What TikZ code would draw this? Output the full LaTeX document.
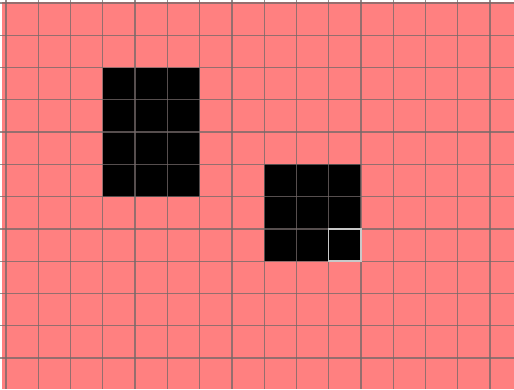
\documentclass[tikz,border=0pt]{standalone}
\usetikzlibrary{calc}
\definecolor{cellpink}{RGB}{255,128,128}
\definecolor{gridline}{RGB}{115,105,105}
\definecolor{hilite}{RGB}{200,200,200}
\tikzset{
  gridstroke/.style={draw=gridline, draw opacity=0.75, line width=1.3pt},
  blackcell/.style={fill=black},
  hicell/.style={draw=hilite, line width=1.5pt}
}
\begin{document}
\begin{tikzpicture}[x=1pt,y=-1pt]
\def\s{32.27}
\useasboundingbox (0,0) rectangle (514,389);
\fill[white] (0,0) rectangle (514,389);
\fill[cellpink] (1.5,1.5) rectangle (514,389);
% black blocks
\fill[blackcell] ({6+3*\s},{3+2*\s}) rectangle ({6+6*\s},{3+6*\s});
\fill[blackcell] ({6+8*\s},{3+5*\s}) rectangle ({6+11*\s},{3+8*\s});
% grid
\foreach \k in {0,...,15} {
  \draw[gridstroke] ({6+\k*\s},0) -- ({6+\k*\s},389);
}
\foreach \k in {0,...,11} {
  \draw[gridstroke] (0,{3+\k*\s}) -- (514,{3+\k*\s});
}
% highlighted cell
\draw[hicell] ({6+10*\s},{3+7*\s}) rectangle ({6+11*\s},{3+8*\s});
\end{tikzpicture}
\end{document}
